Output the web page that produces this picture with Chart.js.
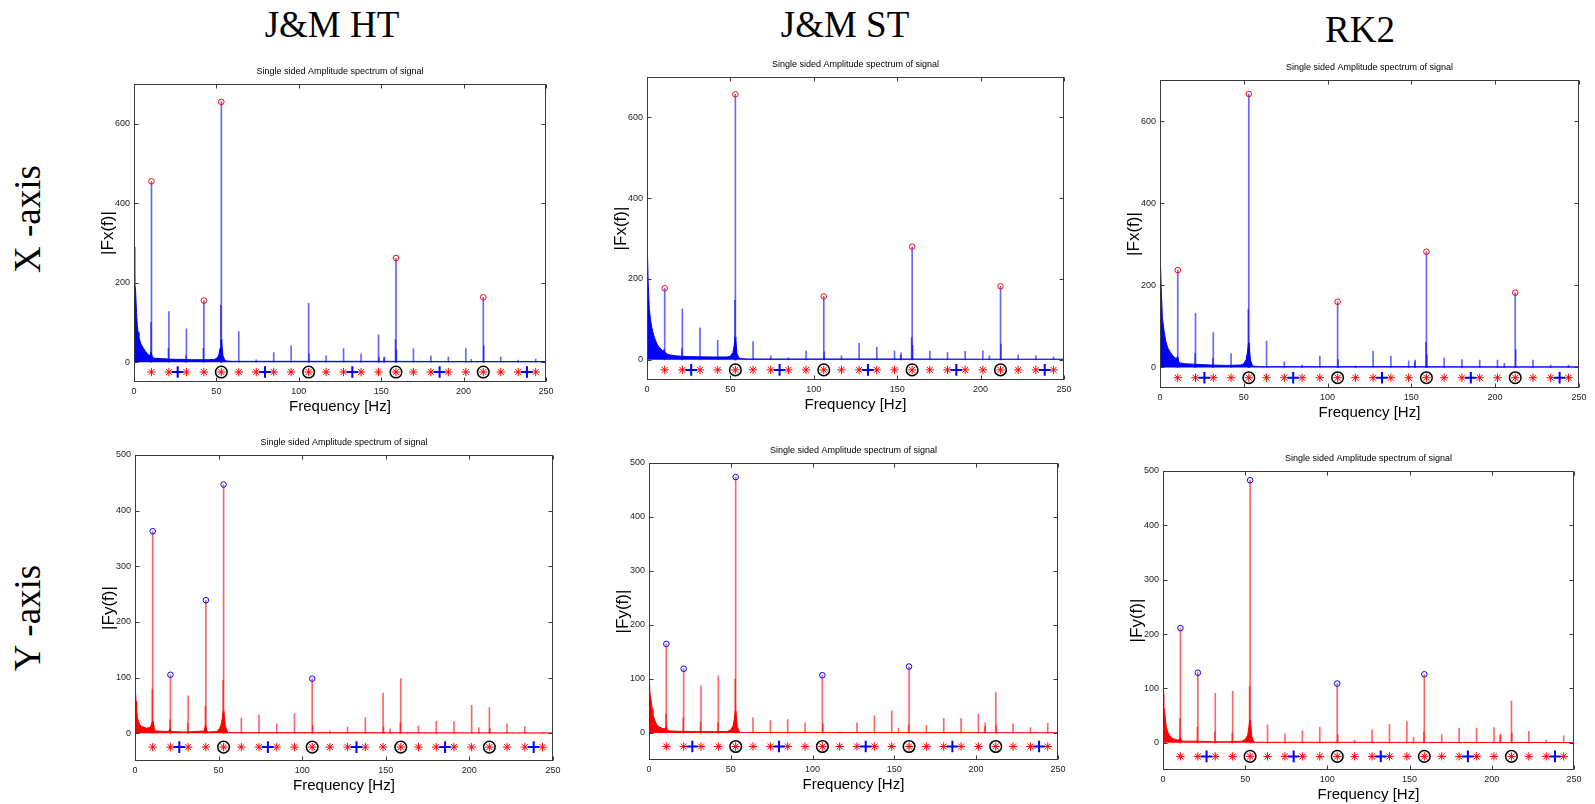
<!DOCTYPE html>
<html>
<head>
<meta charset="utf-8">
<script src="https://cdn.jsdelivr.net/npm/chart.js@4.4.1/dist/chart.umd.min.js"></script>
<style>
html,body{margin:0;padding:0;background:#fff;}
#fig{position:relative;width:1595px;height:804px;overflow:hidden;background:#fff;}
#fig canvas{position:absolute;}
.hdr{position:absolute;font-family:'Liberation Serif','Times New Roman',serif;font-size:37px;line-height:1;color:#000;white-space:nowrap;transform:translate(-50%,-50%);}
.rowlbl{position:absolute;font-family:'Liberation Serif','Times New Roman',serif;font-size:37px;line-height:1;color:#000;white-space:nowrap;transform:translate(-50%,-50%) rotate(-90deg);}
</style>
</head>
<body>
<div id="fig">
  <div class="hdr" style="left:332px;top:24px">J&amp;M HT</div>
  <div class="hdr" style="left:845px;top:24px">J&amp;M ST</div>
  <div class="hdr" style="left:1360px;top:29px">RK2</div>
  <div class="rowlbl" style="left:27px;top:219px">X -axis</div>
  <div class="rowlbl" style="left:27px;top:618px">Y -axis</div>
</div>
<script>
// ---------------- DATA ----------------
const plotTitle = 'Single sided Amplitude spectrum of signal';
const freqTicks = [0, 50, 100, 150, 200, 250];
const xRowTicks = [0, 200, 400, 600];
const yRowTicks = [0, 100, 200, 300, 400, 500];
const markerLevel = -25;
const starHz = [10.6, 21.2, 31.8, 42.4, 53, 63.6, 74.2, 84.8, 95.4, 106, 116.6, 127.2, 137.8, 148.4, 159, 169.6, 180.2, 190.8, 201.4, 212, 222.6, 233.2, 243.8];
const plusHz = [26.5, 79.5, 132.5, 185.5, 238.5];
const ringHz = [53, 106, 159, 212];

// J&M HT, X-axis  [Hz, |Fx|]
const htX_floor = [[0,290],[0.3,250],[0.6,200],[1,178],[1.5,125],[2,92],[2.5,75],[3,62],[4,48],[5,40],[6,33],[7,27],[8,22],[9,18],[9.8,17],[10.4,25],[11,15],[12,10],[16,9],[20,8],[25,7],[30,7],[35,6],[40,6],[45,6],[49,7],[50.5,11],[51.5,18],[52.2,35],[52.8,55],[53.4,38],[54,16],[55,6],[56,3],[60,2],[100,2],[150,2],[200,1.5],[250,1.5]];
const htX_spikes = [[10.6,455],[10.3,100],[21.2,127],[20.9,35],[31.8,84],[31.5,16],[42.4,155],[42.1,35],[53,655],[52.7,143],[53.3,57],[63.6,77],[74.2,6],[84.8,24],[95.4,41],[106,148],[106.3,21],[116.6,16],[127.2,34],[137.8,20],[148.4,69],[148.7,12],[152,13],[151.7,10],[159,262],[158.7,57],[159.3,31],[169.6,34],[180.2,16],[190.8,13],[201.4,34],[204.7,7],[212,163],[212.3,41],[222.6,13],[233.2,5],[243.8,8]];
const htX_peaks = [[10.6,455],[42.4,155],[53,655],[159,262],[212,163]];

// J&M ST, X-axis
const stX_floor = [[0,303],[0.3,260],[0.7,194],[1.4,124],[2.4,91],[3.4,70],[4.4,56],[5.4,45],[6.3,37],[7.3,31],[8.3,27],[9.3,23],[10.3,22],[11,18],[12,14],[14,12],[17,10],[20,9],[25,8],[30,7.5],[40,7],[48,7],[50,9],[51.5,18],[52.3,35],[52.8,55],[53.4,40],[54,15],[55,6],[56,3],[60,2],[100,2],[150,2],[200,1.5],[250,1.5]];
const stX_spikes = [[10.6,177],[10.3,25],[21.2,126],[20.9,28],[31.8,79],[42.4,48],[53,657],[52.7,147],[53.3,56],[63.6,45],[74.2,10],[84.8,5],[95.4,22],[106,157],[106.3,20],[116.6,10],[127.2,41],[137.8,31],[148.4,22],[152.4,17],[152.1,12],[159,280],[158.7,55],[159.3,35],[169.6,21],[180.2,18],[190.8,21],[201.4,22],[205.3,10],[212,182],[212.3,39],[222.6,12],[233.2,10],[243.8,7]];
const stX_peaks = [[10.6,177],[53,657],[106,157],[159,280],[212,182]];

// RK2, X-axis
const rkX_floor = [[0,302],[0.3,250],[0.7,195],[1.4,122],[2.4,89],[3.4,65],[4.5,49],[5.7,40],[7,32],[8.5,25],[10,21],[10.6,26],[11.2,14],[12,11],[15,9],[20,8],[30,6],[40,5],[48,6],[50,9],[51.5,20],[52.3,40],[52.8,60],[53.4,42],[54,18],[55,6],[56,3],[60,2],[100,2],[150,2],[200,1.5],[250,1.5]];
const rkX_spikes = [[10.6,237],[10.3,26],[21.2,132],[20.9,34],[31.8,85],[31.5,22],[42.4,34],[53,666],[52.7,142],[53.3,60],[63.6,64],[74.2,14],[84.8,6],[95.4,28],[106,160],[106.3,19],[116.6,4],[127.2,40],[137.8,28],[148.4,16],[152.3,18],[152,14],[159,282],[158.7,61],[159.3,30],[169.6,23],[180.2,19],[190.8,18],[201.4,18],[205.5,10],[212,182],[212.3,43],[222.6,18],[233.2,6],[243.8,6]];
const rkX_peaks = [[10.6,237],[53,666],[106,160],[159,282],[212,182]];

// J&M HT, Y-axis  [Hz, |Fy|]
const htY_floor = [[0,93],[0.3,75],[0.6,57],[1,42],[1.4,30],[2,22],[3,15],[4,12],[5,11],[7,9],[8.5,10],[9.5,13],[10.2,20],[10.8,22],[11.5,10],[12,4],[20,3],[21,8],[21.6,3],[30,2],[41.5,4],[42.2,15],[43,5],[44,2],[49,3],[50.5,8],[51.5,15],[52.3,28],[52.8,39],[53.4,30],[54,14],[55,5],[56,1],[100,1],[250,0.5]];
const htY_spikes = [[10.6,363],[10.3,79],[21.2,105],[20.9,24],[31.8,67],[31.5,18],[42.4,239],[42.1,49],[53,447],[52.7,95],[53.3,39],[63.6,27],[74.2,33],[84.8,17],[95.4,35],[106,98],[106.3,14],[116.6,4],[127.2,11],[137.8,28],[148.4,72],[148.7,11],[152.6,8],[159,98],[158.7,19],[169.6,13],[180.2,21],[190.8,21],[201.4,50],[205.6,10],[212,46],[212.3,9],[222.6,17],[233.2,12],[243.8,2]];
const htY_peaks = [[10.6,363],[21.2,105],[42.4,239],[53,447],[106,98]];

// J&M ST, Y-axis
const stY_floor = [[0,90],[0.4,80],[0.8,70],[1.4,58],[2,44],[2.4,34],[3.5,24],[4.5,17],[5.5,13],[6.5,11],[8.5,8],[10,8],[10.6,12],[11.2,6],[12,4],[20,3],[30,2.5],[40,2.5],[48,3],[50,6],[51.5,14],[52.3,28],[52.8,40],[53.4,28],[54,12],[55,4],[56,1],[100,1],[250,0.5]];
const stY_spikes = [[10.6,165],[10.3,35],[21.2,119],[20.9,28],[31.8,88],[31.5,20],[42.4,106],[42.1,19],[53,474],[52.7,100],[53.3,40],[63.6,28],[74.2,23],[84.8,25],[95.4,19],[106,107],[106.3,17],[116.6,2],[127.2,19],[137.8,32],[148.4,41],[152.5,9],[159,123],[158.7,15],[169.6,14],[180.2,27],[190.8,27],[201.4,35],[205.6,19],[205.3,12],[212,75],[212.3,14],[222.6,17],[233.2,10],[243.8,18]];
const stY_peaks = [[10.6,165],[21.2,119],[53,474],[106,107],[159,123]];

// RK2, Y-axis
const rkY_floor = [[0,92],[0.3,80],[0.6,68],[1,57],[1.5,42],[2,29],[3,19],[4,14],[5,10],[6,8],[7.5,6],[9,5],[10,6],[10.6,10],[11.2,6],[12,3],[20,3],[30,2],[40,2],[48,3],[50,6],[51.5,14],[52.3,30],[52.8,42],[53.4,30],[54,12],[55,4],[56,1],[100,1],[250,0.5]];
const rkY_spikes = [[10.6,211],[10.3,45],[21.2,129],[20.9,29],[31.8,91],[31.5,20],[42.4,95],[42.1,18],[53,483],[52.7,104],[53.3,42],[63.6,33],[74.2,17],[84.8,22],[95.4,29],[106,109],[106.3,16],[116.6,5],[127.2,24],[137.8,34],[148.4,39],[152.4,10],[159,126],[158.7,20],[169.6,15],[180.2,27],[190.8,27],[201.4,28],[205.4,16],[205.1,14],[212,77],[212.3,18],[222.6,21],[233.2,5],[243.8,13]];
const rkY_peaks = [[10.6,211],[21.2,129],[53,483],[106,109],[159,126]];

// ---------------- LAYOUT / STYLE ----------------
const BLUE = 'rgb(0,0,255)', RED = 'rgb(255,0,0)';
const BLUE_STEM = 'rgba(0,0,255,0.6)', RED_STEM = 'rgba(255,0,0,0.6)';
const panels = [
  {box:{x:74,  y:59,  w:484, h:358}, floor:htX_floor, spikes:htX_spikes, peaks:htX_peaks, yTicks:xRowTicks, yMax:700, yLabel:'|Fx(f)|', line:BLUE, stem:BLUE_STEM, peak:RED},
  {box:{x:587, y:52,  w:489, h:363}, floor:stX_floor, spikes:stX_spikes, peaks:stX_peaks, yTicks:xRowTicks, yMax:700, yLabel:'|Fx(f)|', line:BLUE, stem:BLUE_STEM, peak:RED},
  {box:{x:1100,y:55,  w:491, h:368}, floor:rkX_floor, spikes:rkX_spikes, peaks:rkX_peaks, yTicks:xRowTicks, yMax:700, yLabel:'|Fx(f)|', line:BLUE, stem:BLUE_STEM, peak:RED},
  {box:{x:75,  y:430, w:490, h:366}, floor:htY_floor, spikes:htY_spikes, peaks:htY_peaks, yTicks:yRowTicks, yMax:500, yLabel:'|Fy(f)|', line:RED, stem:RED_STEM, peak:BLUE},
  {box:{x:589, y:438, w:481, h:357}, floor:stY_floor, spikes:stY_spikes, peaks:stY_peaks, yTicks:yRowTicks, yMax:500, yLabel:'|Fy(f)|', line:RED, stem:RED_STEM, peak:BLUE},
  {box:{x:1103,y:446, w:483, h:359}, floor:rkY_floor, spikes:rkY_spikes, peaks:rkY_peaks, yTicks:yRowTicks, yMax:500, yLabel:'|Fy(f)|', line:RED, stem:RED_STEM, peak:BLUE}
];

Chart.defaults.font.family = "'Liberation Sans', Arial, sans-serif";

const boxPlugin = {
  id: 'matlabBox',
  afterDatasetsDraw(chart) {
    const {ctx, chartArea: a, scales} = chart;
    const xs = scales.x, ys = scales.y;
    const L = Math.round(a.left) + 0.5, R = Math.round(a.right) - 0.5;
    const T = Math.round(a.top) + 0.5, B = Math.round(a.bottom) - 0.5;
    ctx.save();
    ctx.strokeStyle = '#3a3a3a';
    ctx.lineWidth = 1;
    ctx.strokeRect(L, T, R - L, B - T);
    ctx.beginPath();
    xs.ticks.forEach(t => {
      const px = Math.round(xs.getPixelForValue(t.value)) + 0.5;
      ctx.moveTo(px, B); ctx.lineTo(px, B - 4);
      ctx.moveTo(px, T); ctx.lineTo(px, T + 4);
    });
    ys.ticks.forEach(t => {
      const py = Math.round(ys.getPixelForValue(t.value)) + 0.5;
      ctx.moveTo(L, py); ctx.lineTo(L + 4, py);
      ctx.moveTo(R, py); ctx.lineTo(R - 4, py);
    });
    ctx.stroke();
    ctx.restore();
  }
};

const fig = document.getElementById('fig');
const toPts = arr => arr.map(([x, y]) => ({x, y}));
const atLevel = hz => ({x: hz, y: markerLevel});

panels.forEach(p => {
  const cv = document.createElement('canvas');
  cv.width = p.box.w; cv.height = p.box.h;
  cv.style.left = p.box.x + 'px'; cv.style.top = p.box.y + 'px';
  cv.style.width = p.box.w + 'px'; cv.style.height = p.box.h + 'px';
  fig.appendChild(cv);
  new Chart(cv, {
    type: 'bar',
    data: {
      datasets: [
        {type:'line', label:'peaks', data:toPts(p.peaks), showLine:false, pointStyle:'circle', pointRadius:2.8, pointBorderWidth:1, pointBorderColor:p.peak, pointBackgroundColor:'rgba(0,0,0,0)', order:0},
        {type:'line', label:'plus', data:plusHz.map(atLevel), showLine:false, pointStyle:'cross', pointRadius:5.8, pointBorderWidth:2, pointBorderColor:BLUE, pointBackgroundColor:BLUE, order:1},
        {type:'line', label:'star', data:starHz.map(atLevel), showLine:false, pointStyle:'star', pointRadius:4.2, pointBorderWidth:1, pointBorderColor:RED, pointBackgroundColor:RED, order:2},
        {type:'line', label:'ring', data:ringHz.map(atLevel), showLine:false, pointStyle:'circle', pointRadius:5.8, pointBorderWidth:1.5, pointBorderColor:'#000', pointBackgroundColor:'rgba(0,0,0,0)', order:3},
        {type:'bar', label:'spikes', data:toPts(p.spikes), backgroundColor:p.stem, barThickness:1, grouped:false, borderWidth:0, order:4},
        {type:'line', label:'floor', data:toPts(p.floor), borderColor:p.line, borderWidth:1, backgroundColor:p.line, fill:'origin', pointRadius:0, tension:0, order:5}
      ]
    },
    options: {
      responsive:false, animation:false, devicePixelRatio:1,
      layout:{padding:{left:0, right:10, top:0, bottom:0}},
      plugins:{
        legend:{display:false}, tooltip:{enabled:false},
        title:{display:true, text:plotTitle, fullSize:false, color:'#000', font:{size:9, weight:'normal', lineHeight:1.2}, padding:{top:7, bottom:7.2}}
      },
      scales:{
        x:{type:'linear', position:'bottom', min:0, max:250, offset:false,
           afterBuildTicks: s => { s.ticks = freqTicks.map(v => ({value:v})); },
           afterFit: s => { s.height = 35; },
           grid:{display:false, drawTicks:false}, border:{display:false},
           ticks:{color:'#222', font:{size:9}, padding:4.6, maxRotation:0, minRotation:0, autoSkip:false},
           title:{display:true, text:'Frequency [Hz]', color:'#000', font:{size:15, lineHeight:1}, padding:{top:0, bottom:2.5}}},
        y:{type:'linear', position:'left', min:-50, max:p.yMax,
           afterBuildTicks: s => { s.ticks = p.yTicks.map(v => ({value:v})); },
           afterFit: s => { s.width = 60; },
           grid:{display:false, drawTicks:false}, border:{display:false},
           ticks:{color:'#222', font:{size:9}, padding:4},
           title:{display:true, text:p.yLabel, color:'#000', font:{size:17, lineHeight:1}, padding:{top:26, bottom:0}}}
      }
    },
    plugins:[boxPlugin]
  });
});
</script>
</body>
</html>
